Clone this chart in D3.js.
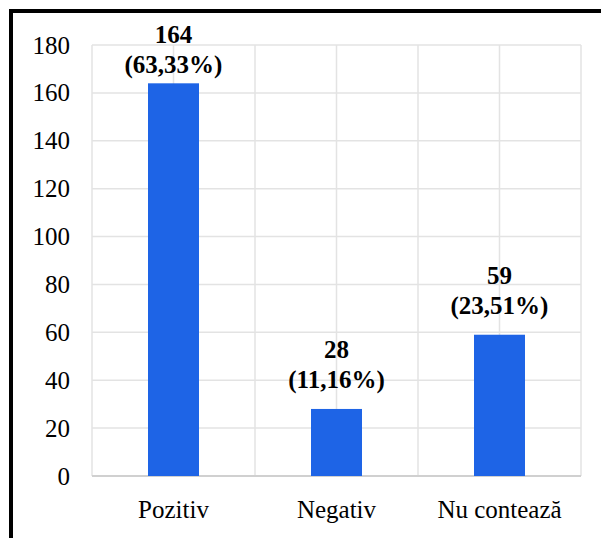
<!DOCTYPE html>
<html><head><meta charset="utf-8">
<script src="https://cdn.jsdelivr.net/npm/d3@7/dist/d3.min.js"></script>
<style>html,body{margin:0;padding:0;background:#fff;overflow:hidden}
#wrap{position:relative;width:601px;height:538px}
#wrap svg{position:absolute;left:0;top:0}
.lbl{position:absolute;white-space:nowrap;font-family:'Liberation Serif','Times New Roman',serif;font-size:25px;line-height:25px;height:25px;color:#000}
</style>
</head><body>
<div id="wrap"><svg id="c" width="601" height="538"></svg></div>
<script>
const categories = ["Pozitiv", "Negativ", "Nu contează"];
const values = [164, 28, 59];
const percents = ["(63,33%)", "(11,16%)", "(23,51%)"];
const yTicks = [0, 20, 40, 60, 80, 100, 120, 140, 160, 180];

const FS = 25, ASC = 0.8375 * FS; // baseline offset inside a line-height:1 box
const wrap = d3.select("#wrap");
const svg = d3.select("#c");
const m = {left: 92, right: 581, top: 45, bottom: 476};

svg.append("rect").attr("x", 11).attr("y", 11).attr("width", 640).attr("height", 600)
  .attr("fill", "none").attr("stroke", "#000").attr("stroke-width", 4);

const x = d3.scaleBand().domain(categories).range([m.left, m.right]).paddingInner(0).paddingOuter(0);
const y = d3.scaleLinear().domain([0, 180]).range([m.bottom, m.top]);

const g = svg.append("g");
g.selectAll("line.h").data(yTicks.slice(1)).enter().append("line")
  .attr("x1", m.left).attr("x2", m.right)
  .attr("y1", d => y(d)).attr("y2", d => y(d))
  .attr("stroke", "#e3e3e3").attr("stroke-width", 1.5);
const vx = [];
categories.forEach(c => { vx.push(x(c)); vx.push(x(c) + x.bandwidth() / 2); });
vx.push(m.right);
g.selectAll("line.v").data(vx).enter().append("line")
  .attr("x1", d => d).attr("x2", d => d)
  .attr("y1", m.top).attr("y2", m.bottom)
  .attr("stroke", "#e3e3e3").attr("stroke-width", 1.5);
g.append("line").attr("x1", m.left).attr("x2", m.right)
  .attr("y1", y(0)).attr("y2", y(0)).attr("stroke", "#d0d0d0").attr("stroke-width", 2);

const bw = 51;
g.selectAll("rect.bar").data(values).enter().append("rect")
  .attr("x", (d, i) => x(categories[i]) + x.bandwidth() / 2 - bw / 2)
  .attr("width", bw)
  .attr("y", d => y(d)).attr("height", d => y(0) - y(d))
  .attr("fill", "#1e64e6");

// text as HTML (serif font)
function label(xp, baseline, txt, anchor, bold) {
  const tx = anchor === "end" ? "-100%" : anchor === "middle" ? "-50%" : "0";
  wrap.append("div").attr("class", "lbl")
    .style("left", xp + "px").style("top", (baseline - ASC) + "px")
    .style("transform", `translateX(${tx})`)
    .style("font-weight", bold ? "bold" : "normal")
    .text(txt);
}
yTicks.forEach(d => label(70, y(d) + 8.5, d, "end", false));
categories.forEach(c => label(x(c) + x.bandwidth() / 2, 518, c, "middle", false));
values.forEach((v, i) => {
  const cx = x(categories[i]) + x.bandwidth() / 2;
  const base = Math.max(y(v) - 21, 73);
  label(cx, base - 30, v, "middle", true);
  label(cx, base, percents[i], "middle", true);
});
</script>
</body></html>
